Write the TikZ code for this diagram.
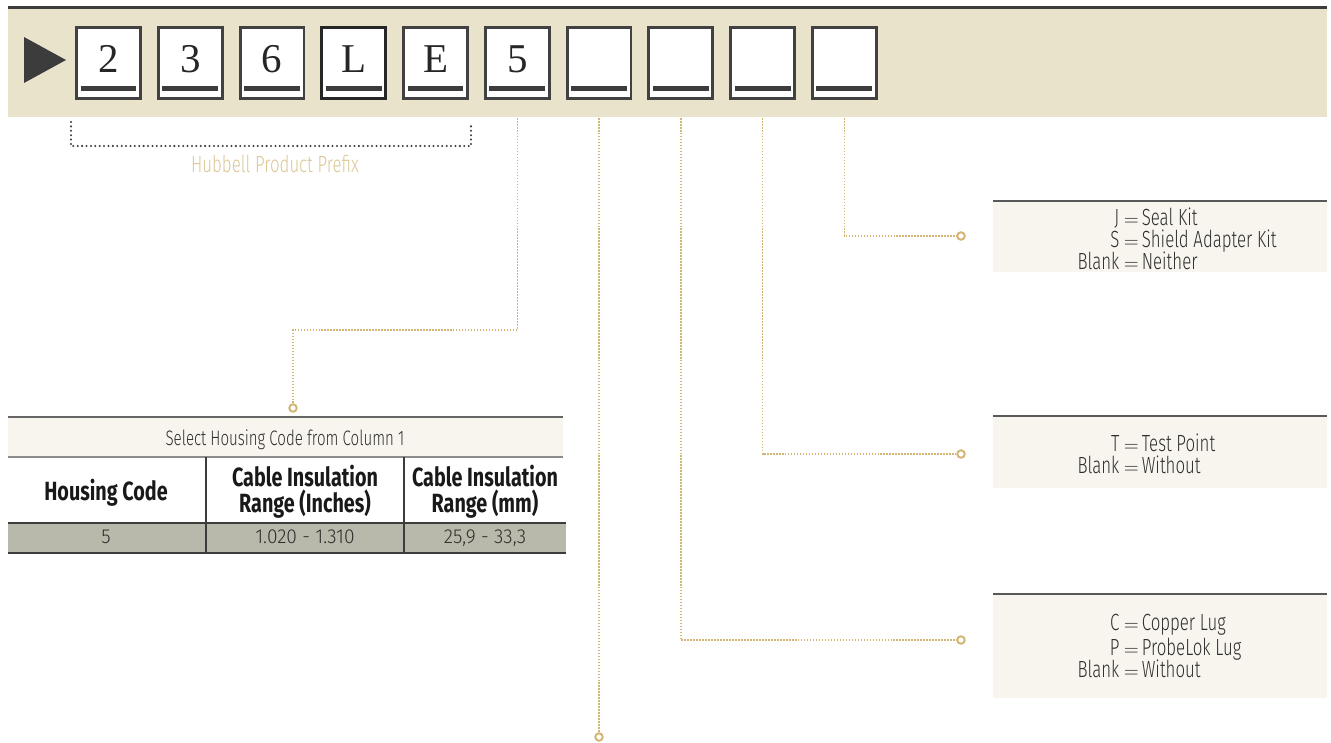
\documentclass[tikz,border=0pt]{standalone}
\usepackage{fontspec}
\usepackage{tikz}
\IfFontExistsTF{Fira Sans Light}
    {\newfontfamily\lightfont[FakeStretch=0.72]{Fira Sans Light}
     \newfontfamily\cellfont[FakeStretch=0.95]{Fira Sans Light}}
    {\newfontfamily\lightfont[FakeStretch=0.72]{Fira Sans}
     \newfontfamily\cellfont[FakeStretch=0.95]{Fira Sans}}
\newfontfamily\heavyfont[FakeStretch=0.75]{Fira Sans}
\newfontfamily\serifdigits{Liberation Serif}
\definecolor{bandbg}{HTML}{EAE3CC}
\definecolor{darkline}{HTML}{3C3C3C}
\definecolor{boxline}{HTML}{414141}
\definecolor{leadtan}{HTML}{D3B574}
\definecolor{prefixtan}{HTML}{DCC795}
\definecolor{panelbg}{HTML}{F8F5EE}
\definecolor{rowgray}{HTML}{B9B9AB}
\definecolor{optgray}{HTML}{2E2E2E}
\newcommand{\boxw}{1.28cm}
\newcommand{\boxh}{1.42cm}
\newcommand{\opteq}{\hspace{0.09cm}{\fontsize{11}{11}\selectfont$=$}\hspace{0.06cm}}
\newcommand{\optrow}[2]{\hbox to 0pt{\hss#1}\opteq#2}

\begin{document}
\begin{tikzpicture}[x=0.02cm,y=-0.02cm,
        digitbox/.style={draw=boxline,line width=1.7pt,fill=white,minimum width=\boxw,
            minimum height=\boxh,inner sep=0pt,text height=0.388cm,text depth=0pt,
            font=\serifdigits\fontsize{23.3}{26}\selectfont,text=black!85},
        bar/.style={darkline,line width=2.85pt},
        lead/.style={leadtan,line width=0.85pt,dash pattern=on 0.9pt off 0.8pt},
        endring/.style={circle,draw=leadtan,line width=1.1pt,fill=white,minimum size=0.15cm,inner sep=0pt},
        prefixdots/.style={darkline,line width=1.3pt,line cap=round,dash pattern=on 0pt off 2.5pt},
        optline/.style={anchor=base west,inner sep=0pt,text=optgray,font=\lightfont\fontsize{13.3}{15}\selectfont},
        cell/.style={anchor=base,inner sep=0pt,text=optgray,font=\cellfont\fontsize{11.5}{13}\selectfont},
        headcell/.style={align=center,inner sep=0pt,text=black!90,
            font=\heavyfont\bfseries\fontsize{15}{14.8}\selectfont}]
    \useasboundingbox (0,0) rectangle (1331,743);
    %\draw[help lines] (0,0) grid (1331,743);

    % code strip
    \fill[bandbg] (8,9) rectangle (1327,117);
    \draw[darkline,line width=1.9pt] (8,7.7) -- (1327,7.7);
    \fill[darkline] (24,37) -- (66,60) -- (24,83) -- cycle;
    \foreach \txt/\edge [count=\i] in {2/boxline,3/boxline,6/boxline,L/black!85,E/boxline,5/boxline,
            {}/boxline,{}/boxline,{}/boxline,{}/boxline} {
        \node[digitbox,draw=\edge] (b\i) at ({108.5+81.75*(\i-1)},63) {\txt};
        \draw[bar] ([xshift=0.11cm,yshift=0.23cm]b\i.south west) -- ([xshift=-0.11cm,yshift=0.23cm]b\i.south east);
    }

    % prefix bracket
    \draw[prefixdots] (71,122) -- (71,146) -- (471,146) -- (471,122);
    \node[inner sep=0pt,text=prefixtan,font=\lightfont\fontsize{13.3}{15}\selectfont] (prefix) at (275,164) {Hubbell Product Prefix};

    % leaders
    \node[endring] (c6) at (293,408) {};
    \node[endring] (c7) at (599,737) {};
    \node[endring] (c8) at (961,640) {};
    \node[endring] (c9) at (961,454) {};
    \node[endring] (c10) at (961,236) {};
    \coordinate (k6) at (293,330);
    \draw[lead] ([yshift=-0.36cm]b6.south) |- (k6) -- (c6);
    \draw[lead] ([yshift=-0.36cm]b7.south) -- (c7);
    \draw[lead] ([yshift=-0.36cm]b8.south) |- (c8);
    \draw[lead] ([yshift=-0.36cm]b9.south) |- (c9);
    \draw[lead] ([yshift=-0.36cm]b10.south) |- (c10);

    % housing table
    \fill[panelbg] (8,417) rectangle (563,457);
    \fill[rowgray] (8,523) rectangle (566,553);
    \draw[black!60,line width=1.2pt] (8,417) -- (563,417);
    \draw[black!45,line width=0.7pt] (8,457) -- (563,457);
    \draw[darkline,line width=1pt] (8,523) -- (566,523);
    \draw[darkline,line width=1pt] (8,553) -- (566,553);
    \draw[darkline,line width=1pt] (206,457) -- (206,553);
    \draw[darkline,line width=1pt] (404,457) -- (404,553);
    \node[cell,font=\lightfont\fontsize{11.9}{13}\selectfont] (sel) at (285,445) {Select Housing Code from Column 1};
    \node[headcell,anchor=base] (hcode) at (106,500) {Housing Code};
    \node[headcell] (hinch) at (305,492) {Cable Insulation\\Range (Inches)};
    \node[headcell] (hmm) at (485,492) {Cable Insulation\\Range (mm)};
    \node[cell] (vcode) at (106,543) {5};
    \node[cell] (vinch) at (305,543) {1.020 - 1.310};
    \node[cell] (vmm) at (485,543) {25,9 - 33,3};

    % option panels
    \fill[panelbg] (993,201) rectangle (1327,272);
    \fill[panelbg] (993,416) rectangle (1327,488);
    \fill[panelbg] (993,594) rectangle (1327,698);
    \draw[black!65,line width=1.1pt] (993,201) -- (1327,201);
    \draw[black!65,line width=1.1pt] (993,416) -- (1327,416);
    \draw[black!65,line width=1.1pt] (993,594) -- (1327,594);
    \node[optline] (seal) at (1119,225) {\optrow{J}{Seal Kit}};
    \node[optline] (shield) at (1119,247) {\optrow{S}{Shield Adapter Kit}};
    \node[optline] (neither) at (1119,269) {\optrow{Blank}{Neither}};
    \node[optline] (test) at (1119,451) {\optrow{T}{Test Point}};
    \node[optline] (notest) at (1119,473) {\optrow{Blank}{Without}};
    \node[optline] (copper) at (1119,630) {\optrow{C}{Copper Lug}};
    \node[optline] (probe) at (1119,655) {\optrow{P}{ProbeLok Lug}};
    \node[optline] (nolug) at (1119,677) {\optrow{Blank}{Without}};
\end{tikzpicture}
\end{document}
